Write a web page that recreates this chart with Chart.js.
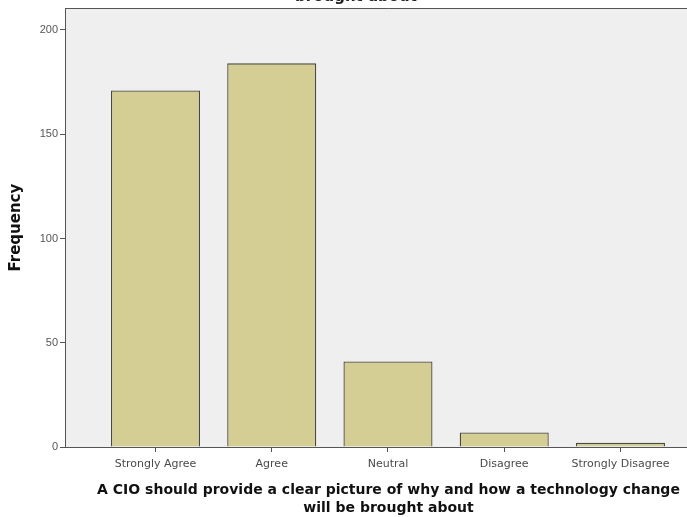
<!DOCTYPE html>
<html>
<head>
<meta charset="utf-8">
<script src="https://cdn.jsdelivr.net/npm/chart.js@4/dist/chart.umd.min.js"></script>
<style>
  html, body { margin: 0; padding: 0; background: #ffffff; overflow: hidden; width: 687px; height: 517px; }
  #wrap { position: absolute; left: 0; top: -30px; width: 712px; height: 547px; }
</style>
</head>
<body>
<div id="wrap"><canvas id="c" width="712" height="547"></canvas></div>
<script>
const categories = ["Strongly Agree", "Agree", "Neutral", "Disagree", "Strongly Disagree"];
const frequencies = [171, 184, 41, 7, 2];
const yTicks = [0, 50, 100, 150, 200];
const chartTitle = ["A CIO should provide a clear picture of why and how a technology change will be", "brought about"];
const xTitle = ["A CIO should provide a clear picture of why and how a technology change", "will be brought about"];
const yTitle = "Frequency";

const plotFrame = {
  id: 'plotFrame',
  beforeDraw(chart) {
    const a = chart.chartArea, ctx = chart.ctx;
    ctx.save();
    ctx.fillStyle = '#efefef';
    ctx.fillRect(a.left, a.top, a.right - a.left, a.bottom - a.top);
    ctx.strokeStyle = '#555555';
    ctx.lineWidth = 1;
    ctx.beginPath();
    ctx.moveTo(a.left, Math.round(a.top) + 0.5);
    ctx.lineTo(a.right - 0.5, Math.round(a.top) + 0.5);
    ctx.lineTo(a.right - 0.5, a.bottom);
    ctx.stroke();
    ctx.restore();
  }
};

new Chart(document.getElementById('c'), {
  type: 'bar',
  data: {
    datasets: [{
      data: categories.map((c, i) => ({ x: i + 1, y: frequencies[i] })),
      backgroundColor: '#d4ce95',
      borderColor: '#4a4a3c',
      borderWidth: 1.3,
      borderSkipped: 'bottom',
      barPercentage: 0.766,
      categoryPercentage: 1.0
    }]
  },
  options: {
    responsive: false,
    animation: false,
    layout: { padding: { top: 0, right: 0, left: 0, bottom: 0 } },
    plugins: {
      legend: { display: false },
      tooltip: { enabled: false },
      title: {
        display: true,
        text: chartTitle,
        color: '#222222',
        font: { family: 'DejaVu Sans', size: 15, weight: 'bold', lineHeight: 1.2 },
        padding: { top: 0, bottom: 2.3 }
      }
    },
    scales: {
      x: {
        type: 'linear',
        offset: false,
        min: 0.2215,
        max: 5.7875,
        afterBuildTicks(scale) { scale.ticks = categories.map((c, i) => ({ value: i + 1 })); },
        afterFit(scale) { scale.height = 70; },
        ticks: {
          autoSkip: false,
          maxRotation: 0,
          padding: 6,
          color: '#4a4a4a',
          font: { family: 'DejaVu Sans', size: 11 },
          callback: (v) => categories[Math.round(v) - 1]
        },
        grid: { offset: false, drawOnChartArea: false, drawTicks: true, tickLength: 5, color: '#555555' },
        border: { display: true, color: '#555555', width: 1 },
        title: {
          display: true,
          text: xTitle,
          color: '#111111',
          font: { family: 'DejaVu Sans', size: 14, weight: 'bold', lineHeight: 1.286 },
          padding: { top: 0, bottom: 0 }
        }
      },
      y: {
        min: 0,
        max: 210.4,
        afterBuildTicks(scale) { scale.ticks = yTicks.map(v => ({ value: v })); },
        afterFit(scale) { scale.width = 65; },
        ticks: {
          padding: 2,
          color: '#555555',
          font: { family: 'Liberation Sans', size: 11 }
        },
        grid: { drawOnChartArea: false, drawTicks: true, tickLength: 5, color: '#555555' },
        border: { display: true, color: '#555555', width: 1 },
        title: {
          display: true,
          text: yTitle,
          color: '#111111',
          font: { family: 'DejaVu Sans', size: 15, weight: 'bold', lineHeight: 1.2 },
          padding: { top: 7.5, bottom: 0 }
        }
      }
    }
  },
  plugins: [plotFrame]
});
</script>
</body>
</html>
